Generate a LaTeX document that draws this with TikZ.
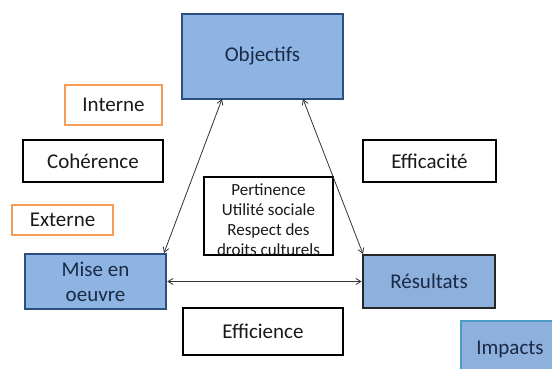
\documentclass[tikz,border=0pt]{standalone}
\usepackage{fontspec}
\setmainfont{Carlito}
\usetikzlibrary{arrows.meta}
\definecolor{boxblue}{HTML}{8EB4E3}
\definecolor{boxblue2}{HTML}{8DB0DC}
\definecolor{navy}{HTML}{2B4F7E}
\definecolor{orng}{HTML}{F59D56}
\definecolor{impborder}{HTML}{4A9CC4}
\definecolor{txt}{HTML}{1A1A1A}
\definecolor{bluetxt}{HTML}{1B2A44}
\definecolor{arr}{HTML}{333333}
\tikzset{
  base/.style={rectangle, inner sep=0pt, font=\fontsize{21}{25}\selectfont, text=txt, align=center},
  bluebox/.style={base, draw=navy, fill=boxblue, line width=2.6pt, text=bluetxt},
  resbox/.style={base, draw=black!85, fill=boxblue2, line width=2.8pt, text=bluetxt},
  plainbox/.style={base, draw=black, line width=1.6pt},
  orangebox/.style={base, draw=orng, line width=1.6pt},
  conn/.style={draw=arr, line width=0.8pt, {Straight Barb[length=5pt,width=6pt]}-{Straight Barb[length=5pt,width=6pt]}}
}
\begin{document}
\begin{tikzpicture}[x=1pt,y=-1pt]
\useasboundingbox (0,0) rectangle (552,369);
\clip (0,0) rectangle (552,369);
\fill[white] (0,0) rectangle (552,369);
% boxes
\node[bluebox, minimum width=161pt, minimum height=85pt] (obj) at (262.5,56.5) {Objectifs};
\node[orangebox, minimum width=97pt, minimum height=40pt] (int) at (113.5,105) {Interne};
\node[plainbox, minimum width=140pt, minimum height=42pt] (coh) at (93,161) {Cohérence};
\node[orangebox, minimum width=101pt, minimum height=30pt] (ext) at (62.5,220) {Externe};
\node[bluebox, minimum width=141pt, minimum height=55pt] (mise) at (95.5,281.5) {Mise en\\oeuvre};
\node[plainbox, minimum width=133pt, minimum height=42pt] (eff) at (429.5,161) {Efficacité};
\node[resbox, minimum width=132pt, minimum height=53pt] (res) at (429,281.5) {Résultats};
\node[plainbox, minimum width=160pt, minimum height=47pt] (effi) at (263,331.5) {Efficience};
\node[base, draw=impborder, fill=boxblue2, line width=1.6pt, minimum width=110pt, minimum height=60pt, anchor=north west] (imp) at (460,320) {};
\node[base, text=bluetxt] (imptext) at (510,349) {Impacts};
% centre
\node[plainbox, line width=1.4pt, minimum width=129pt, minimum height=78pt] (mid) at (268.5,216) {};
\node[base, font=\fontsize{17}{20}\selectfont] (midtext) at (268.5,220) {Pertinence\\Utilité sociale\\Respect des\\droits culturels};
% connectors
\coordinate (o1) at (222,99);
\coordinate (o2) at (303,99);
\coordinate (m1) at (164,253);
\coordinate (r1) at (363,254);
\draw[conn] (o1) -- (m1);
\draw[conn] (o2) -- (r1);
\draw[conn] (mise.east) -- (res.west);
\end{tikzpicture}
\end{document}
